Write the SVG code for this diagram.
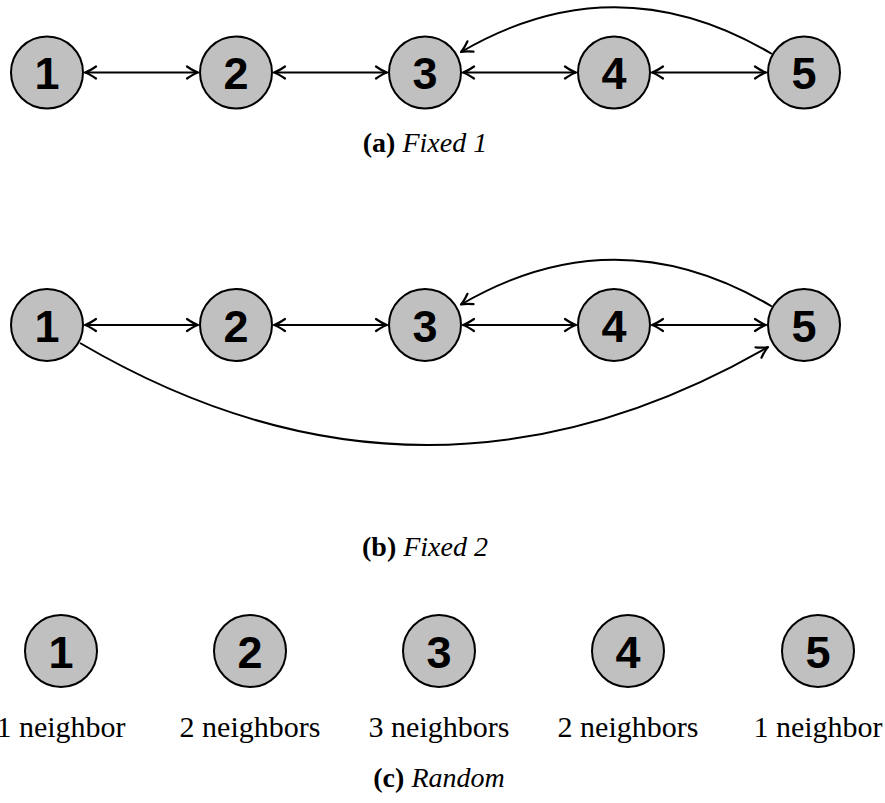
<svg xmlns="http://www.w3.org/2000/svg" width="885" height="803" viewBox="0 0 885 803">
<style>
.node circle{fill:#c0c0c0;stroke:#000;stroke-width:2}
.node text{font-family:"Liberation Sans",Arial,sans-serif;font-weight:bold;font-size:45px;text-anchor:middle;fill:#000}
.edge{fill:none;stroke:#000;stroke-width:2}
.bi{marker-start:url(#ah);marker-end:url(#ah)}
.uni{marker-end:url(#ah)}
.cap{font-family:"Liberation Serif","Times New Roman",serif;font-size:28px;text-anchor:middle;fill:#000}
.lbl{font-family:"Liberation Serif","Times New Roman",serif;font-size:30px;text-anchor:middle;fill:#000}
</style>
<defs>
<marker id="ah" viewBox="-13 -8 15 16" refX="0" refY="0" markerWidth="15" markerHeight="16" markerUnits="userSpaceOnUse" orient="auto-start-reverse">
<path d="M-11,-6 Q-4,-1.2 0,0 Q-4,1.2 -11,6" fill="none" stroke="#000" stroke-width="2.2" stroke-linecap="round" stroke-linejoin="round"/>
</marker>
</defs>
<rect width="885" height="803" fill="#fff"/>

<g id="connectors">
<!-- (a) -->
<line class="edge bi" x1="85" y1="72.5" x2="198" y2="72.5"/>
<line class="edge bi" x1="274" y1="72.5" x2="387" y2="72.5"/>
<line class="edge bi" x1="463" y1="72.5" x2="576" y2="72.5"/>
<line class="edge bi" x1="652" y1="72.5" x2="766" y2="72.5"/>
<path class="edge uni" d="M772,54 Q616,-38.5 461,52"/>
<!-- (b) -->
<line class="edge bi" x1="85" y1="325" x2="198" y2="325"/>
<line class="edge bi" x1="274" y1="325" x2="387" y2="325"/>
<line class="edge bi" x1="463" y1="325" x2="576" y2="325"/>
<line class="edge bi" x1="652" y1="325" x2="766" y2="325"/>
<path class="edge uni" d="M772,306.5 Q616,214 461,304.5"/>
<path class="edge uni" d="M80,343 Q424,545 768,347"/>
</g>

<g id="a1" class="node"><circle cx="47" cy="72.5" r="36"/><text x="47" y="89">1</text></g>
<g id="a2" class="node"><circle cx="236" cy="72.5" r="36"/><text x="236" y="89">2</text></g>
<g id="a3" class="node"><circle cx="425" cy="72.5" r="36"/><text x="425" y="89">3</text></g>
<g id="a4" class="node"><circle cx="614" cy="72.5" r="36"/><text x="614" y="89">4</text></g>
<g id="a5" class="node"><circle cx="804" cy="72.5" r="36"/><text x="804" y="89">5</text></g>
<text class="cap" x="425" y="152"><tspan font-weight="bold">(a)</tspan> <tspan font-style="italic">Fixed 1</tspan></text>

<g id="b1" class="node"><circle cx="47" cy="325" r="36"/><text x="47" y="341.5">1</text></g>
<g id="b2" class="node"><circle cx="236" cy="325" r="36"/><text x="236" y="341.5">2</text></g>
<g id="b3" class="node"><circle cx="425" cy="325" r="36"/><text x="425" y="341.5">3</text></g>
<g id="b4" class="node"><circle cx="614" cy="325" r="36"/><text x="614" y="341.5">4</text></g>
<g id="b5" class="node"><circle cx="804" cy="325" r="36"/><text x="804" y="341.5">5</text></g>
<text class="cap" x="425" y="556"><tspan font-weight="bold">(b)</tspan> <tspan font-style="italic">Fixed 2</tspan></text>

<g id="c1" class="node"><circle cx="61" cy="651" r="36"/><text x="61" y="667.5">1</text></g>
<g id="c2" class="node"><circle cx="250" cy="651" r="36"/><text x="250" y="667.5">2</text></g>
<g id="c3" class="node"><circle cx="439" cy="651" r="36"/><text x="439" y="667.5">3</text></g>
<g id="c4" class="node"><circle cx="628" cy="651" r="36"/><text x="628" y="667.5">4</text></g>
<g id="c5" class="node"><circle cx="818" cy="651" r="36"/><text x="818" y="667.5">5</text></g>
<text class="lbl" x="61" y="737">1 neighbor</text>
<text class="lbl" x="250" y="737">2 neighbors</text>
<text class="lbl" x="439" y="737">3 neighbors</text>
<text class="lbl" x="628" y="737">2 neighbors</text>
<text class="lbl" x="818" y="737">1 neighbor</text>
<text class="cap" x="439" y="787"><tspan font-weight="bold">(c)</tspan> <tspan font-style="italic">Random</tspan></text>
</svg>
